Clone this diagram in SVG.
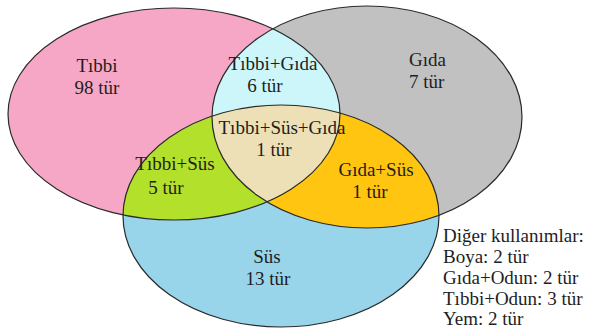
<svg xmlns="http://www.w3.org/2000/svg" width="592" height="333" viewBox="0 0 592 333">
<style>
text{font-family:"Liberation Serif","Times New Roman",serif;font-size:19px;fill:#1e1e1e}
.c{text-anchor:middle}
.edge{fill:none;stroke:#2a2a2a;stroke-width:1.2}
</style>
<defs>
<clipPath id="clipT"><ellipse cx="174" cy="114" rx="166" ry="106"/></clipPath>
<clipPath id="clipG"><ellipse cx="367" cy="117" rx="155" ry="111"/></clipPath>
</defs>
<rect width="592" height="333" fill="#ffffff"/>
<g id="tibbi">
<ellipse cx="174" cy="114" rx="166" ry="106" fill="#F5A7C5"/>
</g>
<g id="gida">
<ellipse cx="367" cy="117" rx="155" ry="111" fill="#C1C1C1"/>
</g>
<g id="sus">
<ellipse cx="281" cy="216" rx="158" ry="111" fill="#98D4EA"/>
</g>
<g id="tibbi-gida">
<ellipse cx="367" cy="117" rx="155" ry="111" fill="#CDF6FB" clip-path="url(#clipT)"/>
</g>
<g id="tibbi-sus">
<ellipse cx="281" cy="216" rx="158" ry="111" fill="#B2E02B" clip-path="url(#clipT)"/>
</g>
<g id="gida-sus">
<ellipse cx="281" cy="216" rx="158" ry="111" fill="#FFC511" clip-path="url(#clipG)"/>
</g>
<g id="tibbi-sus-gida">
<g clip-path="url(#clipT)">
<ellipse cx="281" cy="216" rx="158" ry="111" fill="#EDE0B6" clip-path="url(#clipG)"/>
</g>
</g>
<g id="outlines">
<ellipse class="edge" cx="174" cy="114" rx="166" ry="106"/>
<ellipse class="edge" cx="367" cy="117" rx="155" ry="111"/>
<ellipse class="edge" cx="281" cy="216" rx="158" ry="111"/>
</g>
<g id="labels">
<text class="c" x="97" y="72">Tıbbi</text>
<text class="c" x="97" y="94">98 tür</text>
<text class="c" x="273" y="70">Tıbbi+Gıda</text>
<text class="c" x="265" y="92">6 tür</text>
<text x="409" y="66">Gıda</text>
<text x="409" y="88">7 tür</text>
<text class="c" x="282" y="134">Tıbbi+Süs+Gıda</text>
<text class="c" x="274" y="156">1 tür</text>
<text class="c" x="175" y="170">Tıbbi+Süs</text>
<text class="c" x="166" y="194">5 tür</text>
<text class="c" x="376" y="176">Gıda+Süs</text>
<text class="c" x="370" y="198">1 tür</text>
<text class="c" x="267" y="263">Süs</text>
<text class="c" x="268" y="285">13 tür</text>
</g>
<g id="legend">
<text x="443" y="242">Diğer kullanımlar:</text>
<text x="443" y="263">Boya: 2 tür</text>
<text x="443" y="284">Gıda+Odun: 2 tür</text>
<text x="443" y="305">Tıbbi+Odun: 3 tür</text>
<text x="443" y="325">Yem: 2 tür</text>
</g>
</svg>
